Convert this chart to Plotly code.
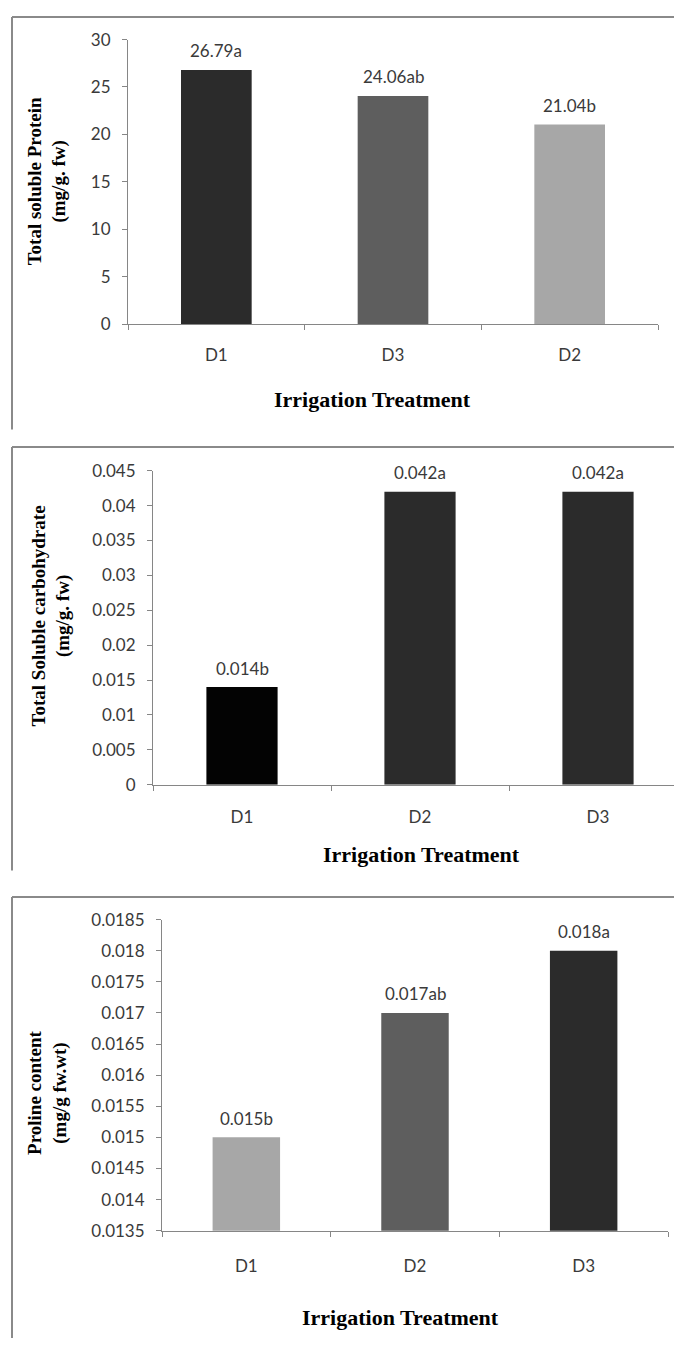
import plotly.graph_objects as go

# ---- data -------------------------------------------------------------
protein_cats = ["D1", "D3", "D2"]
protein_vals = [26.79, 24.06, 21.04]
protein_sig = ["a", "ab", "b"]
protein_colors = ["#2b2b2b", "#5e5e5e", "#a7a7a7"]
protein_ticks = [0, 5, 10, 15, 20, 25, 30]
protein_ticktext = ["0", "5", "10", "15", "20", "25", "30"]

carb_cats = ["D1", "D2", "D3"]
carb_vals = [0.014, 0.042, 0.042]
carb_sig = ["b", "a", "a"]
carb_colors = ["#030303", "#2b2b2b", "#2b2b2b"]
carb_ticks = [0, 0.005, 0.01, 0.015, 0.02, 0.025, 0.03, 0.035, 0.04, 0.045]
carb_ticktext = ["0", "0.005", "0.01", "0.015", "0.02", "0.025", "0.03",
                 "0.035", "0.04", "0.045"]

proline_cats = ["D1", "D2", "D3"]
proline_vals = [0.015, 0.017, 0.018]
proline_sig = ["b", "ab", "a"]
proline_colors = ["#a7a7a7", "#5e5e5e", "#2b2b2b"]
proline_ticks = [0.0135, 0.014, 0.0145, 0.015, 0.0155, 0.016, 0.0165,
                 0.017, 0.0175, 0.018, 0.0185]
proline_ticktext = ["0.0135", "0.014", "0.0145", "0.015", "0.0155", "0.016",
                    "0.0165", "0.017", "0.0175", "0.018", "0.0185"]

x_title = "Irrigation Treatment"

# ---- page geometry (pixels) -------------------------------------------
W, H = 674, 1348


def px(x):
    return x / W


def py(y):
    return 1 - y / H


panels = [
    dict(cats=protein_cats, vals=protein_vals, sig=protein_sig,
         colors=protein_colors, ticks=protein_ticks, ticktext=protein_ticktext,
         yrange=[0, 30], x0=128, x1=658, xr=[-0.5, 2.5], ytop=29, ybot=318,
         ytitle="<b>Total soluble Protein<br>(mg/g. fw)</b>",
         ytx=47, yty=173, xtx=372, xty=395, xstand=16,
         frame_top=6, frame_bot=425),
    dict(cats=carb_cats, vals=carb_vals, sig=carb_sig,
         colors=carb_colors, ticks=carb_ticks, ticktext=carb_ticktext,
         yrange=[0, 0.045], x0=153, x1=674, xr=[-0.5, 2.5 - 13 / 178],
         ytop=467, ybot=786,
         ytitle="<b>Total Soluble carbohydrate<br>(mg/g. fw)</b>",
         ytx=51, yty=615, xtx=421, xty=857, xstand=17,
         frame_top=443, frame_bot=873),
    dict(cats=proline_cats, vals=proline_vals, sig=proline_sig,
         colors=proline_colors, ticks=proline_ticks, ticktext=proline_ticktext,
         yrange=[0.0135, 0.0185], x0=162, x1=668, xr=[-0.5, 2.5],
         ytop=923, ybot=1239,
         ytitle="<b>Proline content<br>(mg/g fw.wt)</b>",
         ytx=48, yty=1099, xtx=401, xty=1327, xstand=20,
         frame_top=900, frame_bot=1348),
]

AXIS_GREY = "#868686"
TEXT_GREY = "#3a3a3a"
tick_font = dict(family="Lato, 'Liberation Sans', sans-serif", size=17,
                 color=TEXT_GREY)
serif = "'Liberation Serif', 'Times New Roman', serif"

fig = go.Figure()
annotations = []
shapes = []
layout_axes = {}

for i, p in enumerate(panels, start=1):
    xa = "x" if i == 1 else f"x{i}"
    ya = "y" if i == 1 else f"y{i}"
    fig.add_trace(go.Bar(
        x=p["cats"], y=p["vals"], width=0.4,
        marker=dict(color=p["colors"], line=dict(width=0)),
        xaxis=xa, yaxis=ya, showlegend=False, hoverinfo="x+y",
    ))

    xkey = "xaxis" if i == 1 else f"xaxis{i}"
    ykey = "yaxis" if i == 1 else f"yaxis{i}"
    layout_axes[xkey] = dict(
        domain=[px(p["x0"]), px(p["x1"])], anchor=ya, type="category",
        range=p["xr"], showline=True, linecolor=AXIS_GREY, linewidth=1,
        ticks="outside", tickson="boundaries", ticklen=5,
        tickcolor=AXIS_GREY, tickfont=tick_font, showgrid=False,
        zeroline=False, fixedrange=True, ticklabelstandoff=p["xstand"],
    )
    layout_axes[ykey] = dict(
        domain=[py(p["ybot"]), py(p["ytop"])], anchor=xa,
        range=p["yrange"], tickvals=p["ticks"], ticktext=p["ticktext"],
        showline=True, linecolor=AXIS_GREY, linewidth=1,
        ticks="outside", ticklen=5, tickcolor=AXIS_GREY, tickfont=tick_font,
        showgrid=False, zeroline=False, fixedrange=True,
        ticklabelstandoff=8,
    )

    # value + significance letter above each bar
    for c, v, s in zip(p["cats"], p["vals"], p["sig"]):
        annotations.append(dict(
            x=c, y=v, xref=xa, yref=ya, text=f"{v:g}{s}", showarrow=False,
            yanchor="middle", yshift=19, font=tick_font,
        ))

    # axis titles
    annotations.append(dict(
        x=px(p["ytx"]), y=py(p["yty"]), xref="paper", yref="paper",
        text=p["ytitle"], textangle=-90, showarrow=False,
        xanchor="center", yanchor="middle",
        font=dict(family=serif, size=19, color="#000000"),
    ))
    annotations.append(dict(
        x=px(p["xtx"]), y=py(p["xty"]), xref="paper", yref="paper",
        text=f"<b>{x_title}</b>", showarrow=False,
        xanchor="center", yanchor="middle",
        font=dict(family=serif, size=22, color="#000000"),
    ))

    # chart-area frame (left and top edges)
    shapes.append(dict(type="line", xref="paper", yref="paper",
                       x0=px(12), x1=px(12), y0=py(p["frame_top"]),
                       y1=py(p["frame_bot"]),
                       line=dict(color="#8a8a8a", width=2)))
    shapes.append(dict(type="line", xref="paper", yref="paper",
                       x0=px(12), x1=1, y0=py(p["frame_top"]),
                       y1=py(p["frame_top"]),
                       line=dict(color="#8a8a8a", width=2)))

fig.update_layout(
    width=W, height=H, margin=dict(l=0, r=0, t=0, b=0),
    paper_bgcolor="white", plot_bgcolor="white",
    annotations=annotations, shapes=shapes, showlegend=False,
    **layout_axes,
)

fig.write_html("out.html", config={"displayModeBar": False})
